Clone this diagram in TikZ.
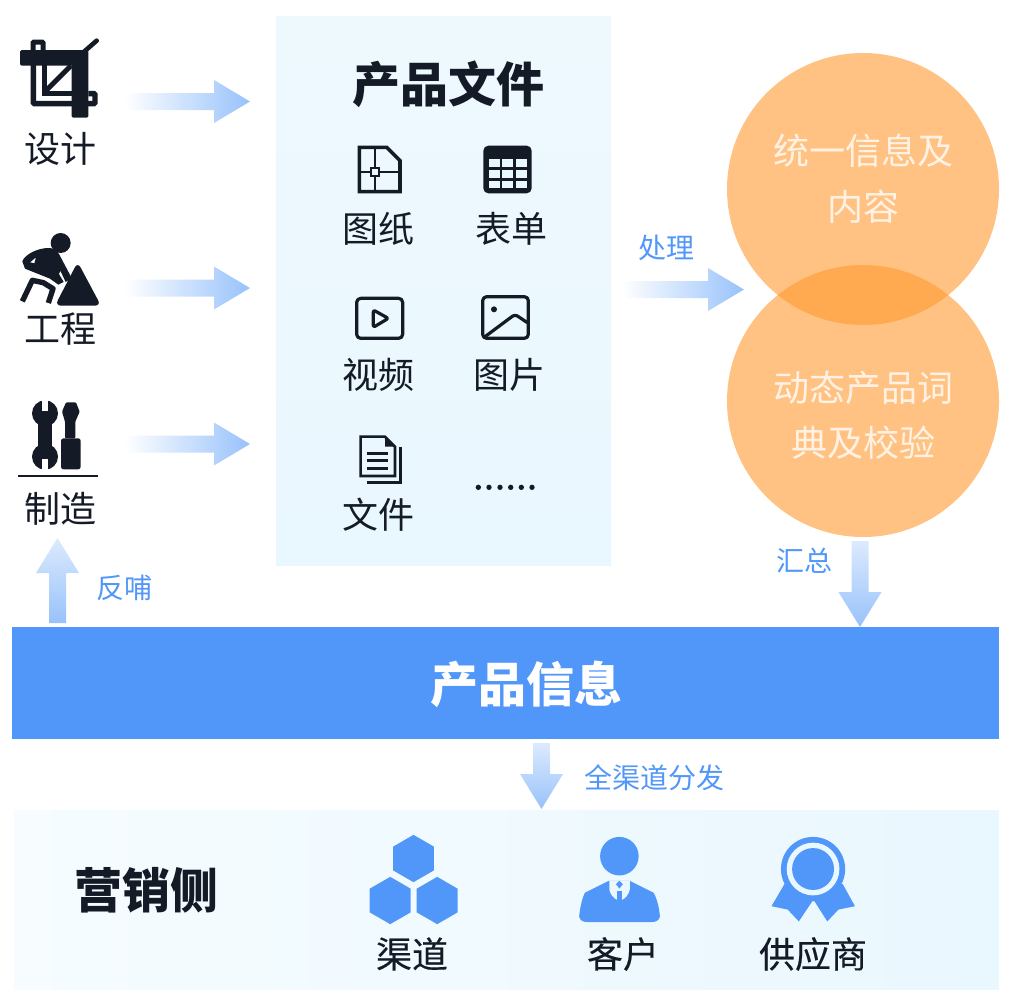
\documentclass[tikz,border=0pt]{standalone}
\usepackage{fontspec}
\setmainfont{Noto Sans CJK SC}
\usetikzlibrary{calc,shapes.geometric}
\definecolor{inkdark}{HTML}{141A26}
\definecolor{bannerblue}{HTML}{5197F9}
\definecolor{paneltint}{HTML}{E9F7FE}
\definecolor{panellight}{HTML}{EEF9FE}
\definecolor{bandlight}{HTML}{F6FCFF}
\definecolor{flowdeep}{HTML}{98C2FB}
\definecolor{flowpale}{HTML}{DCEAFD}
\definecolor{discorange}{HTML}{FF9A2E}
\newcommand{\pxfont}[1]{\fontsize{#1}{#1}\selectfont}
\tikzset{
    %Define style for text
    caption/.style={inner sep=0pt, text=inkdark, font=\pxfont{36}},
    captionb/.style={inner sep=0pt, text=inkdark, font=\pxfont{36}\addfontfeature{FakeBold=0.3}},
    flowlabel/.style={inner sep=0pt, text=bannerblue, font=\pxfont{28}},
    headline/.style={inner sep=0pt, text=inkdark, font=\pxfont{48}\bfseries},
    circletext/.style={inner sep=0pt, text=white, text opacity=.8, font=\pxfont{36}},
    % Define style for regions
    disc/.style={fill=discorange, fill opacity=.6},
    hexcell/.style={regular polygon, regular polygon sides=6, shape border rotate=30,
           fill=bannerblue, minimum size=47.3pt, inner sep=0pt},
    % Define arrow style
    flowh/.style={left color=white, right color=flowdeep},
    flowv/.style={top color=flowpale, bottom color=flowdeep},
    lineicon/.style={draw=inkdark, line width=3.2pt, line join=round}
}
% block arrows between named points
\newcommand{\flowright}[2]{
  \path[flowh] ($(#1)+(0,-8.5)$) -- ($(#2)+(-36,-8.5)$) -- ($(#2)+(-36,-21.5)$) -- (#2)
    -- ($(#2)+(-36,21.5)$) -- ($(#2)+(-36,8.5)$) -- ($(#1)+(0,8.5)$) -- cycle;}
\newcommand{\flowvert}[3]{
  \path[flowv] ($(#1)+(-8.5,0)$) -- ($(#2)+(-8.5,#3*-35)$) -- ($(#2)+(-21.5,#3*-35)$) -- (#2)
    -- ($(#2)+(21.5,#3*-35)$) -- ($(#2)+(8.5,#3*-35)$) -- ($(#1)+(8.5,0)$) -- cycle;}
\begin{document}
\begin{tikzpicture}[x=1pt,y=-1pt]
  \useasboundingbox (0,0) rectangle (1027,999);
  %regions
  \fill[top color=panellight, bottom color=paneltint] (276,16) rectangle (611,565);
  \fill[left color=bandlight, right color=paneltint] (14,810) rectangle (999,989);
  \node[fill=bannerblue, inner sep=0pt, minimum width=987pt, minimum height=112pt] (banner) at (505.5,683) {};
  \node[inner sep=0pt, text=white, font=\pxfont{48}\bfseries] (bannertext) at (526,684) {产品信息};
  \fill[disc] (863,189) circle (136);
  \fill[disc] (863,401) circle (136);
  %left column
  \node[caption] (design) at (60,149) {设计};
  \node[caption] (build) at (60,329) {工程};
  \node[caption] (make) at (60,509) {制造};
  %file panel
  \node[headline] (files) at (448,84) {产品文件};
  \node[caption] (drawing) at (378,229) {图纸};
  \node[caption] (sheet) at (511,229) {表单};
  \node[caption] (video) at (378,375) {视频};
  \node[caption] (image) at (509,375) {图片};
  \node[caption] (doc) at (378,515) {文件};
  %circles
  \node[circletext] (unify) at (863,151) {统一信息及};
  \node[circletext] (unifyb) at (863,207) {内容};
  \node[circletext] (dict) at (863,388) {动态产品词};
  \node[circletext] (dictb) at (863,443) {典及校验};
  %bottom row
  \node[headline] (market) at (146,890) {营销侧};
  \node[captionb] (channel) at (412,954) {渠道};
  \node[captionb] (client) at (623,954) {客户};
  \node[captionb] (vendor) at (813,954) {供应商};
  %arrow labels
  \node[flowlabel] (lprocess) at (666,248) {处理};
  \node[flowlabel] (lsum) at (804,561) {汇总};
  \node[flowlabel] (lback) at (124,588) {反哺};
  \node[flowlabel] (lspread) at (654,778) {全渠道分发};
  %arrows
  \coordinate (designout) at (124,101.5);
  \coordinate (designin) at (250,101.5);
  \coordinate (buildout) at (124,288);
  \coordinate (buildin) at (250,288);
  \coordinate (makeout) at (124,444);
  \coordinate (makein) at (250,444);
  \coordinate (fileout) at (622,289.5);
  \coordinate (discin) at (744,289.5);
  \coordinate (discout) at (860,541);
  \coordinate (bannerin) at (860,627);
  \coordinate (spreadout) at (541.5,743);
  \coordinate (spreadin) at (541.5,809);
  \coordinate (backout) at (57.5,623);
  \coordinate (backin) at (57.5,538);
  \flowright{designout}{designin}
  \flowright{buildout}{buildin}
  \flowright{makeout}{makein}
  \flowright{fileout}{discin}
  \flowvert{discout}{bannerin}{1}
  \flowvert{spreadout}{spreadin}{1}
  \flowvert{backout}{backin}{-1}
  %crop icon
  \begin{scope}[shift={(15,35)},scale=1/3]
    \fill[inkdark,rounded corners=1.5pt] (15,45) rectangle (205,92);
    \fill[inkdark,rounded corners=1.5pt] (170,45) rectangle (220,248);
    \draw[inkdark,line width=5pt,rounded corners=1pt] (54,45) -- (54,21) -- (84,21) -- (84,45);
    \draw[inkdark,line width=5.4pt,rounded corners=1pt] (220,176) -- (240,176) -- (240,206) -- (55,206) -- (55,90);
    \fill[inkdark] (82,90) rectangle (96,182);
    \fill[inkdark] (82,168) rectangle (170,182);
    \draw[inkdark,line width=5pt] (90,170) -- (168,92);
    \draw[inkdark,line width=4.6pt,line cap=round] (205,52) -- (245,17);
  \end{scope}
  %worker icon
  \begin{scope}[shift={(15,228)},scale=1/3]
    \fill[inkdark] (137,45) circle (30);
    \fill[inkdark,rounded corners=6pt] (188,102) -- (258,233) -- (120,233) -- cycle;
    \fill[inkdark,even odd rule] (22,100) .. controls (30,78) and (70,60) .. (100,60)
      .. controls (115,60) and (125,65) .. (132,78) -- (170,150) -- (152,162) -- (136,128)
      -- (132,138) -- (146,162) -- (130,170) -- (105,152) -- (55,132) -- (30,122) -- cycle
      (45,103) -- (63,88) -- (58,106) -- cycle;
    \draw[inkdark,line width=5.4pt,line join=round] (22,220) -- (52,157) -- (85,164) -- (114,182) -- (100,225);
  \end{scope}
  %tools icon
  \begin{scope}[shift={(0,380)},scale=1/3]
    \fill[inkdark] (135,100) circle (39);
    \fill[inkdark] (135,230) circle (39);
    \fill[inkdark] (115,110) rectangle (157,220);
    \fill[white] (125,58) rectangle (145,92);
    \fill[white] (125,238) rectangle (145,272);
    \fill[inkdark,rounded corners=1pt] (198,67) -- (228,67) -- (239,95) -- (226,125) -- (226,175)
      -- (195,175) -- (195,125) -- (186,95) -- cycle;
    \fill[inkdark,rounded corners=2.5pt] (183,175) rectangle (242,268);
    \draw[inkdark,line width=2pt] (53,287) -- (293,287);
  \end{scope}
  %drawing icon
  \begin{scope}[shift={(330,130)},scale=1/3]
    \draw[lineicon,line width=3.6pt,line join=miter] (88,52) -- (170,52) -- (210,92) -- (210,185) -- (88,185) -- cycle;
    \draw[inkdark,line width=2.2pt] (135,52) -- (135,112) (135,140) -- (135,185)
      (88,125) -- (122,125) (150,125) -- (210,125) (124,114) rectangle (148,137);
    %table icon
    \fill[inkdark,rounded corners=5pt] (460,47) rectangle (605,190);
    \foreach \cx in {477,517,558}
      \foreach \cy in {87,120,152}
        \fill[paneltint] (\cx,\cy) rectangle +(33,23);
    %video icon
    \draw[lineicon,rounded corners=4pt] (80,505) rectangle (218,625);
    \draw[lineicon,rounded corners=2pt] (130,540) -- (175,565) -- (130,592) -- cycle;
    %image icon
    \draw[lineicon,rounded corners=4pt] (458,500) rectangle (595,625);
    \fill[inkdark] (492,538) circle (9);
    \draw[lineicon,rounded corners=3pt] (465,620) -- (555,553) -- (592,578);
  \end{scope}
  %document icon
  \begin{scope}[shift={(330,340)},scale=1/3]
    \draw[lineicon,line width=2.6pt,line join=miter] (92,290) -- (165,290) -- (195,320) -- (195,408) -- (92,408) -- cycle;
    \fill[inkdark] (165,290) -- (195,320) -- (165,320) -- cycle;
    \draw[inkdark,line width=2.6pt] (110,340) -- (175,340) (110,362) -- (175,362) (110,385) -- (175,385);
    \draw[inkdark,line width=2.6pt] (212,322) -- (212,428) -- (110,428);
    \foreach \dx in {445,477,510,542,574,606}
      \fill[inkdark] (\dx,442) circle (8);
  \end{scope}
  %hex icon
  \node[hexcell] (hextop) at (413.5,858.5) {};
  \node[hexcell] (hexleft) at (390.2,900.5) {};
  \node[hexcell] (hexright) at (437.2,900.5) {};
  %person icon
  \begin{scope}[shift={(350,820)},scale=.338]
    \fill[bannerblue] (797,107) circle (57);
    \fill[bannerblue] (765,180) -- (695,215) .. controls (685,235) and (680,265) .. (678,285)
      .. controls (680,298) and (690,302) .. (705,302) -- (890,302)
      .. controls (905,302) and (915,298) .. (917,285) .. controls (915,265) and (910,235) .. (898,215)
      -- (828,180) -- cycle;
    \fill[paneltint] (767,180) -- (767,205) .. controls (770,220) and (780,232) .. (790,236)
      -- (805,236) .. controls (815,232) and (825,220) .. (828,205) -- (828,180) -- cycle;
    \fill[bannerblue] (797,180) -- (807,190) -- (797,203) -- (787,190) -- cycle;
    \fill[bannerblue] (790,209) rectangle (805,236);
    %medal icon
    \fill[bannerblue] (1285,190) -- (1247,255) -- (1295,265) -- (1328,300) -- (1368,240)
      -- (1374,240) -- (1412,300) -- (1445,265) -- (1494,255) -- (1458,190) -- cycle;
    \fill[bannerblue] (1370,145) circle (95);
    \fill[paneltint] (1370,145) circle (78);
    \fill[bannerblue] (1370,145) circle (62);
  \end{scope}
\end{tikzpicture}
\end{document}
